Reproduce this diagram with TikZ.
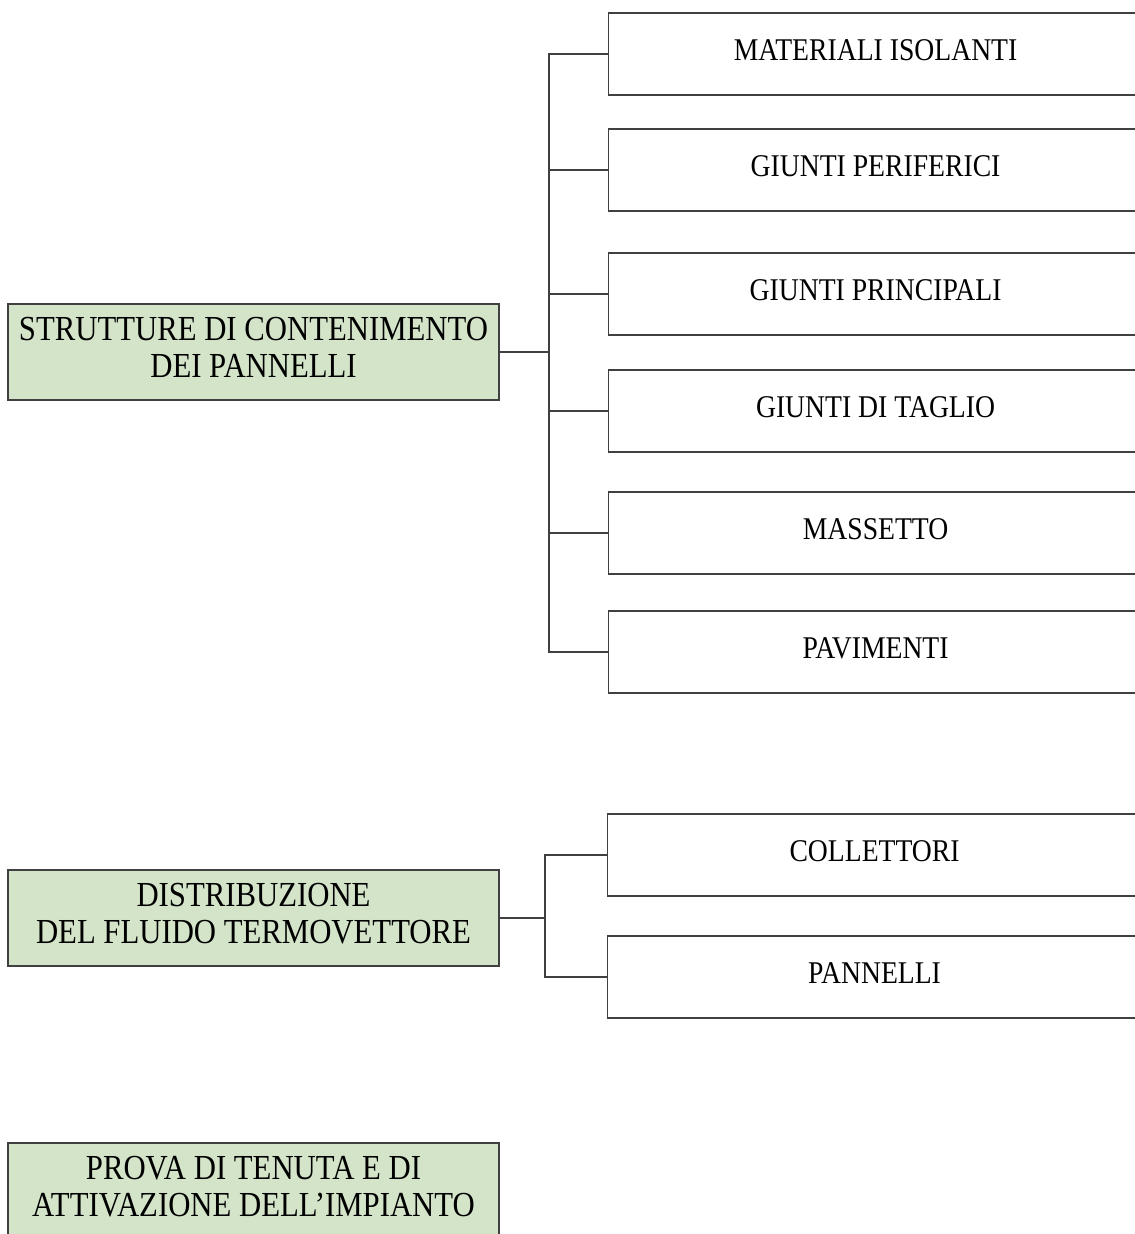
\documentclass[tikz,border=0pt]{standalone}
\usepackage{fontspec}
\setmainfont{Liberation Serif}[FakeStretch=0.875]
\usepackage{tikz}
\usetikzlibrary{positioning}
\definecolor{groupgreen}{RGB}{211,228,201}
\definecolor{linegray}{RGB}{64,64,64}

\begin{document}
\begin{tikzpicture}[
    x=0.02cm, y=-0.02cm,
    group style/.style={rectangle, draw=linegray, line width=0.7pt, fill=groupgreen, minimum width=9.82cm, minimum height=1.92cm, inner sep=2pt, text depth=0.18cm, align=center, font=\fontsize{20}{21}\selectfont},
    item style/.style={rectangle, draw=linegray, line width=0.7pt, fill=white, minimum width=10.68cm, minimum height=1.64cm, text depth=0.16cm, anchor=west, font=\fontsize{18}{20}\selectfont},
    link style/.style={draw=linegray, line width=0.6pt}
]
\useasboundingbox (0,0) rectangle (1134,1234);

% left column
\node[group style] (contenimento) at (253.5,352) {STRUTTURE DI CONTENIMENTO\\DEI PANNELLI};
\node[group style] (distribuzione) at (253.5,918) {DISTRIBUZIONE\\DEL FLUIDO TERMOVETTORE};
\node[group style] (prova) at (253.5,1191) {PROVA DI TENUTA E DI\\ATTIVAZIONE DELL'IMPIANTO};

% first group
\node[item style] (isolanti) at (608,54) {MATERIALI ISOLANTI};
\node[item style] (periferici) at (608,170) {GIUNTI PERIFERICI};
\node[item style] (principali) at (608,294) {GIUNTI PRINCIPALI};
\node[item style] (taglio) at (608,411) {GIUNTI DI TAGLIO};
\node[item style] (massetto) at (608,533) {MASSETTO};
\node[item style] (pavimenti) at (608,652) {PAVIMENTI};

% second group
\node[item style] (collettori) at (607,855) {COLLETTORI};
\node[item style] (pannelli) at (607,977) {PANNELLI};

\coordinate (busA) at (549,0);
\coordinate (busB) at (545,0);

\draw[link style] (contenimento.east) -- (contenimento.east -| busA);
\draw[link style] (isolanti.west) -| (busA |- pavimenti.west) -- (pavimenti.west);
\draw[link style] (periferici.west) -- (periferici.west -| busA);
\draw[link style] (principali.west) -- (principali.west -| busA);
\draw[link style] (taglio.west) -- (taglio.west -| busA);
\draw[link style] (massetto.west) -- (massetto.west -| busA);

\draw[link style] (distribuzione.east) -- (distribuzione.east -| busB);
\draw[link style] (collettori.west) -| (busB |- pannelli.west) -- (pannelli.west);
\end{tikzpicture}
\end{document}
